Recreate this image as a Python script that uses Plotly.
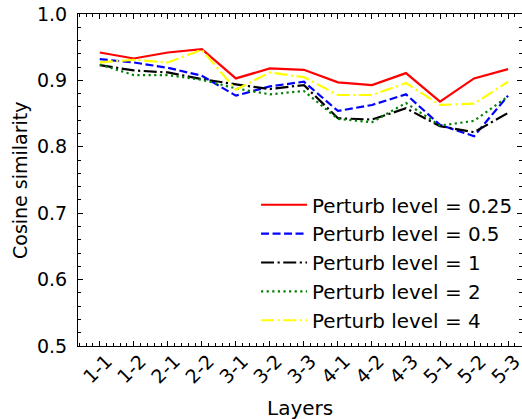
import plotly.graph_objects as go

layers = ["1-1", "1-2", "2-1", "2-2", "3-1", "3-2", "3-3", "4-1", "4-2", "4-3", "5-1", "5-2", "5-3"]

level_025 = [0.942, 0.933, 0.942, 0.947, 0.903, 0.918, 0.916, 0.897, 0.893, 0.911, 0.868, 0.903, 0.917]
level_05 = [0.932, 0.927, 0.919, 0.907, 0.877, 0.891, 0.898, 0.854, 0.863, 0.879, 0.833, 0.816, 0.877]
level_1 = [0.923, 0.915, 0.912, 0.902, 0.894, 0.887, 0.893, 0.843, 0.841, 0.858, 0.831, 0.822, 0.851]
level_2 = [0.924, 0.908, 0.908, 0.901, 0.888, 0.879, 0.884, 0.842, 0.837, 0.866, 0.832, 0.839, 0.876]
level_4 = [0.927, 0.931, 0.927, 0.946, 0.886, 0.912, 0.905, 0.878, 0.878, 0.896, 0.863, 0.865, 0.898]

series = [
    ("Perturb level = 0.25", level_025, "#ff0000", "solid"),
    ("Perturb level = 0.5", level_05, "#0000ff", "8px,3.5px"),
    ("Perturb level = 1", level_1, "#000000", "13px,3.5px,2.2px,3.5px"),
    ("Perturb level = 2", level_2, "#007f00", "2.2px,3.4px"),
    ("Perturb level = 4", level_4, "#ffff00", "13px,3.5px,2.2px,3.5px"),
]

FONT = "DejaVu Sans"
xs = list(range(len(layers)))

fig = go.Figure()
for i, (name, vals, color, dash) in enumerate(series):
    fig.add_trace(go.Scatter(
        x=xs, y=vals, mode="lines", name=name,
        line=dict(color=color, width=2.2, dash=dash),
        legendgroup=f"g{i}",
    ))

axis_common = dict(
    showline=True, linecolor="black", linewidth=1, mirror="allticks",
    ticks="inside", tickcolor="black", tickwidth=1, ticklen=5,
    showgrid=False, zeroline=False,
)

fig.update_xaxes(
    range=[-0.64, 12.41], tick0=0, dtick=1, showticklabels=False,
    minor=dict(ticks="inside", dtick=0.2, tick0=0, ticklen=3, tickcolor="black", tickwidth=1),
    **axis_common,
)
fig.update_yaxes(
    range=[0.5, 1.0], tick0=0.5, dtick=0.1, tickformat=".1f",
    tickfont=dict(family=FONT, size=19, color="black"),
    ticklabelstandoff=6,
    minor=dict(ticks="inside", dtick=0.02, tick0=0.5, ticklen=3, tickcolor="black", tickwidth=1),
    **axis_common,
)

annotations = []
for i, lab in enumerate(layers):
    annotations.append(dict(
        x=i - 0.08, xref="x", y=0, yref="paper", yanchor="middle", xanchor="center",
        yshift=-23, text=lab, textangle=-45, showarrow=False,
        font=dict(family=FONT, size=19, color="black"),
    ))
annotations.append(dict(
    x=0.5, xref="paper", y=0, yref="paper", yanchor="middle", xanchor="center",
    yshift=-62, text="Layers", showarrow=False,
    font=dict(family=FONT, size=20, color="black"),
))
annotations.append(dict(
    x=0, xref="paper", y=0.5, yref="paper", yanchor="middle", xanchor="center",
    xshift=-58, text="Cosine similarity", textangle=-90, showarrow=False,
    font=dict(family=FONT, size=19, color="black"),
))

fig.update_layout(
    width=522, height=419,
    margin=dict(l=78, r=0, t=14, b=73, pad=0),
    plot_bgcolor="white", paper_bgcolor="white",
    font=dict(family=FONT, size=19, color="black"),
    annotations=annotations,
    legend=dict(
        x=0.401, y=0.484, xanchor="left", yanchor="top",
        bgcolor="rgba(0,0,0,0)", borderwidth=0,
        font=dict(family=FONT, size=19.9, color="black"),
        tracegroupgap=0, itemwidth=46,
    ),
)

fig.write_html("out.html")
